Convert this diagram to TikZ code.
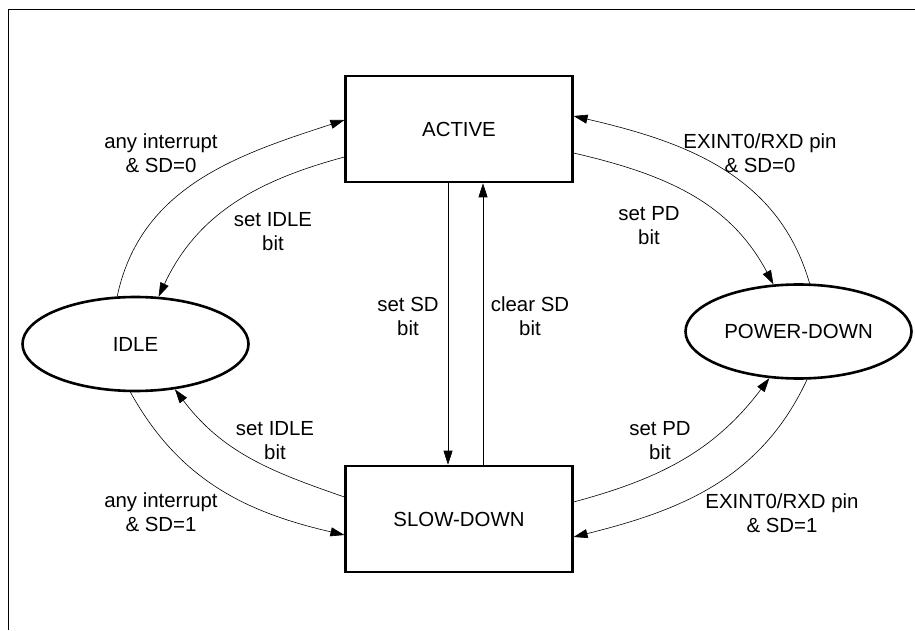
\documentclass[tikz,border=0pt]{standalone}
\usepackage{fontspec}
\setmainfont{Liberation Sans}
\usetikzlibrary{arrows.meta}
\usetikzlibrary{shapes.geometric}

\begin{document}
\begin{tikzpicture}[x=1pt,y=1pt,font=\fontsize{20.4pt}{24pt}\selectfont,
    statebox/.style={shape=rectangle,draw,line width=2.6pt,minimum width=226.5pt,minimum height=106pt,inner sep=0pt},
    modeoval/.style={shape=ellipse,draw,line width=2.6pt,minimum width=226pt,minimum height=94pt,inner sep=0pt},
    trans/.style={line width=.6pt,-{Triangle[length=14pt,width=9pt]}},
    lbl/.style={align=center,inner sep=0pt}]
    \useasboundingbox (0,0) rectangle (915,630);
    \draw[line width=.8pt] (8,0) -- (8,621) -- (915,621);
	\node (act) at (459,501) [statebox] {ACTIVE};
	\node (slow) at (459,111) [statebox] {SLOW-DOWN};
	\node (idle) at (135.5,286) [modeoval] {IDLE};
	\node (pwd) at (798.5,298.5) [modeoval] {POWER-DOWN};
	% active <-> slow-down
	\draw[trans] ([xshift=-11pt]act.south) -- ([xshift=-11pt]slow.north);
	\draw[trans] ([xshift=24pt]slow.north) -- ([xshift=24pt]act.south);
	% idle
	\draw[trans] (idle.111) to[out=78,in=198] ([yshift=9pt]act.west);
	\draw[trans] ([yshift=-28pt]act.west) to[out=195,in=65] (idle.64);
	\draw[trans] ([yshift=22pt]slow.west) to[out=161,in=307] (idle.311);
	\draw[trans] (idle.264) to[out=299,in=167] ([yshift=-16pt]slow.west);
	% power-down
	\draw[trans] (pwd.77) to[out=106,in=347] ([yshift=13pt]act.east);
	\draw[trans] ([yshift=-24pt]act.east) to[out=-13,in=118] (pwd.118);
	\draw[trans] ([yshift=17pt]slow.east) to[out=15,in=233] (pwd.238);
	\draw[trans] (pwd.280) to[out=245,in=14] ([yshift=-18pt]slow.east);
	\node (l1) at (161,477) [lbl] {any interrupt\\\& SD=0};
	\node (l2) at (273,398) [lbl] {set IDLE\\bit};
	\node (l3) at (760,477) [lbl] {EXINT0/RXD pin\\\& SD=0};
	\node (l4) at (649,404) [lbl] {set PD\\bit};
	\node (l5) at (408,314) [lbl] {set SD\\bit};
	\node (l6) at (530,314) [lbl] {clear SD\\bit};
	\node (l7) at (275,189) [lbl] {set IDLE\\bit};
	\node (l8) at (161,118) [lbl] {any interrupt\\\& SD=1};
	\node (l9) at (660,189) [lbl] {set PD\\bit};
	\node (l10) at (782,117) [lbl] {EXINT0/RXD pin\\\& SD=1};
\end{tikzpicture}
\end{document}
